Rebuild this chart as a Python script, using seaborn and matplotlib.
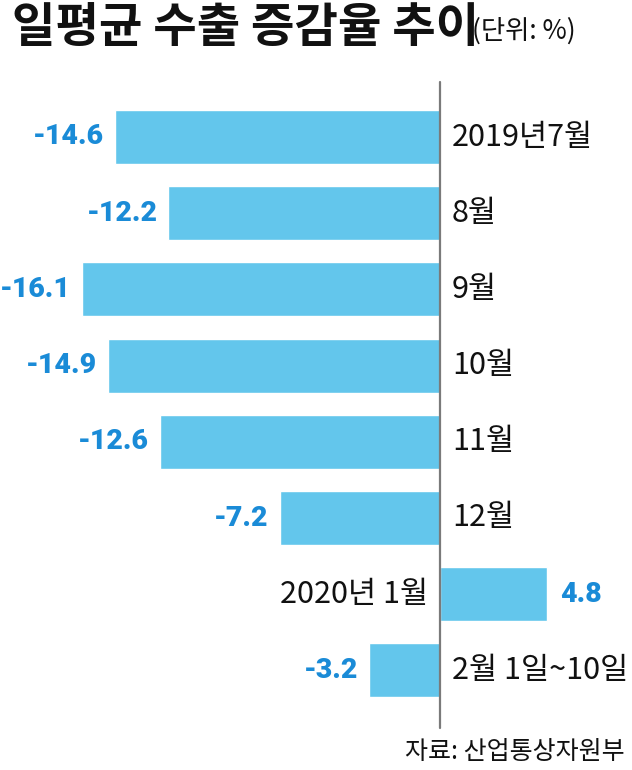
import pandas as pd
import matplotlib.pyplot as plt
import seaborn as sns

# dati
mesi = ["2019년7월", "8월", "9월", "10월", "11월", "12월", "2020년 1월", "2월 1일~10일"]
valori = [-14.6, -12.2, -16.1, -14.9, -12.6, -7.2, 4.8, -3.2]
etichette = ["-14.6", "-12.2", "-16.1", "-14.9", "-12.6", "-7.2", "4.8", "-3.2"]

df = pd.DataFrame({"mese": mesi, "valore": valori})

sns.set_theme(style="white")
plt.rcParams['font.family'] = ['Noto Sans CJK KR', 'DejaVu Sans']

fig = plt.figure(figsize=(6.32, 7.70), dpi=100)
ax = fig.add_axes([0, 0, 1, 1])

sns.barplot(data=df, x="valore", y="mese", orient="h", color="#63C6EC",
            saturation=1, width=0.71, ax=ax)

# scala: 0 a x=440 px, ~22.26 px per unità; righe a 137 px + 76.2 px
px = 22.26
ax.set_xlim(-440 / px, 192 / px)
ax.set_ylim((770 - 137) / 76.2, -137 / 76.2)
ax.axis("off")

# linea dello zero
ax.plot([0, 0], [(82 - 137) / 76.2, (728 - 137) / 76.2], color="#7a7a7a", lw=1.6)

blu = "#1a8bd7"
font_num = ['Roboto', 'DejaVu Sans']
for i, (v, lab, m) in enumerate(zip(valori, etichette, mesi)):
    if v < 0:
        ax.text(v - 11 / px, i, lab, ha="right", va="center", color=blu,
                fontsize=20.5, fontweight="black", family=font_num)
        ax.text(12 / px, i, m, ha="left", va="center", fontsize=22, color="#111111")
    else:
        ax.text(v + 13 / px, i, lab, ha="left", va="center", color=blu,
                fontsize=20.5, fontweight="black", family=font_num)
        ax.text(-12 / px, i, m, ha="right", va="center", fontsize=22, color="#111111")

fig.text(12 / 632, 1 - 28 / 770, "일평균 수출 증감율 추이", ha="left", va="center",
         fontsize=34, fontweight="bold", color="#111111")
fig.text(472 / 632, 1 - 31 / 770, "(단위: %)", ha="left", va="center",
         fontsize=19, color="#111111")
fig.text(625 / 632, 1 - 752 / 770, "자료: 산업통상자원부", ha="right", va="center",
         fontsize=18, color="#111111")

plt.savefig("out.png", dpi=100)
